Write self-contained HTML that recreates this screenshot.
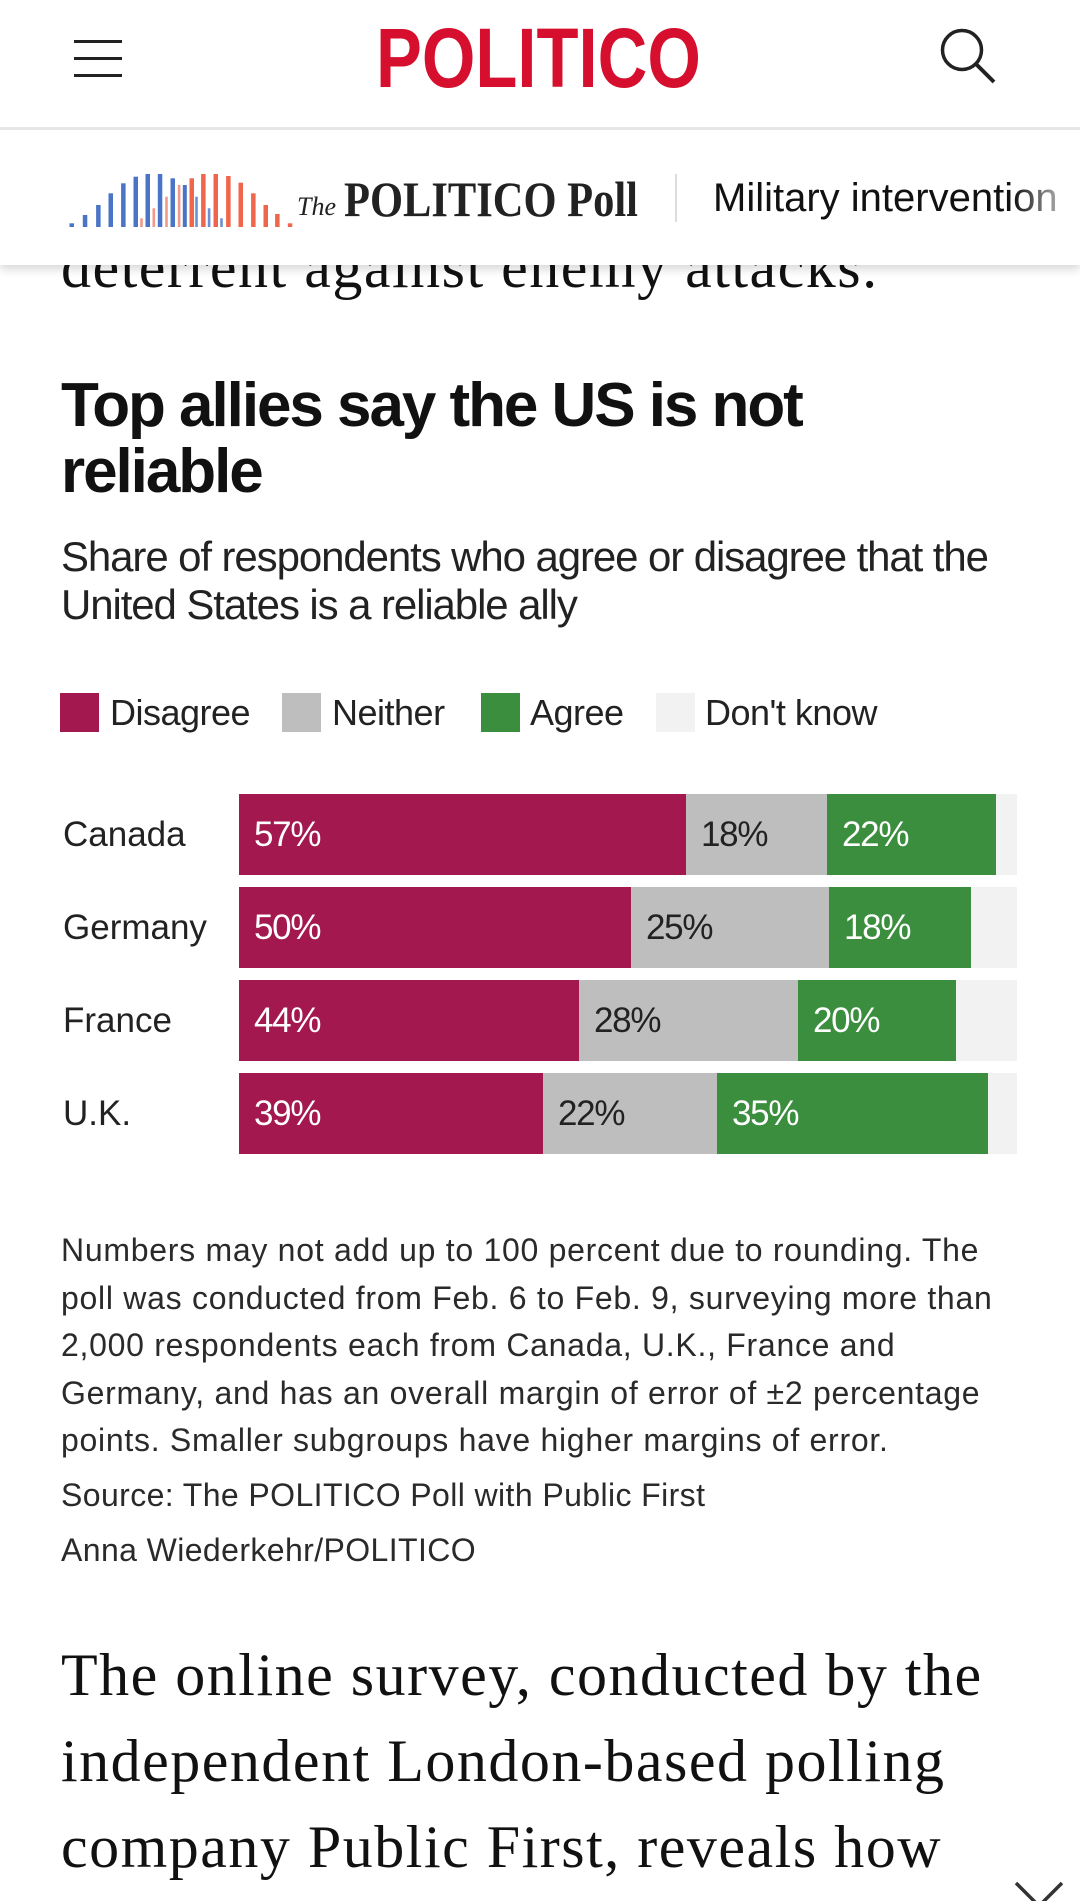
<!DOCTYPE html>
<html>
<head>
<meta charset="utf-8">
<style>
  html, body { margin:0; padding:0; background:#fff; }
  body { width:1080px; height:1901px; position:relative; overflow:hidden; font-family:"Liberation Sans", Arial, sans-serif; color:#222; }
  .abs { position:absolute; white-space:nowrap; }
  .serif { font-family:"Liberation Serif", "Times New Roman", serif; color:#111; }
  .bar { position:absolute; height:81px; line-height:81px; font-size:35px; letter-spacing:-1.3px; box-sizing:border-box; padding-left:15px; white-space:nowrap; overflow:hidden; }
  .dis { background:#a2184f; color:#fff; }
  .nei { background:#bebebe; color:#222; }
  .agr { background:#3a8e3d; color:#fff; }
  .dk  { background:#f2f2f2; }
  .country { position:absolute; left:63px; height:81px; line-height:81px; font-size:35px; color:#222; }
  .leg-sq { position:absolute; top:693px; width:39px; height:39px; }
  .leg-tx { position:absolute; top:693px; height:39px; line-height:39px; font-size:36px; letter-spacing:-0.5px; color:#222; white-space:nowrap; }
  .foot { position:absolute; left:61px; font-size:32px; line-height:47.5px; letter-spacing:0.72px; color:#2a2a2a; white-space:nowrap; }
</style>
</head>
<body>

<!-- partially hidden paragraph line behind sticky bar -->
<div class="abs serif" style="left:61px; top:224px; font-size:60px; line-height:86px; letter-spacing:1.5px; z-index:1;">deterrent against enemy attacks.</div>

<!-- top header -->
<div style="position:absolute; left:0; top:0; width:1080px; height:127px; background:#fff; z-index:3;">
  <div style="position:absolute; left:74px; top:40px; width:48px; height:3px; background:#222;"></div>
  <div style="position:absolute; left:74px; top:57px; width:48px; height:3px; background:#222;"></div>
  <div style="position:absolute; left:74px; top:74px; width:48px; height:3px; background:#222;"></div>
  <div class="abs" style="left:376px; top:15.6px; font-size:84px; line-height:84px; font-weight:bold; color:#d50f2d; transform:scaleX(0.819); transform-origin:left top; letter-spacing:0;">POLITICO</div>
  <svg style="position:absolute; left:930px; top:20px;" width="80" height="80" viewBox="930 20 80 80">
    <circle cx="962" cy="50" r="19.5" fill="none" stroke="#222" stroke-width="3.5"/>
    <line x1="976" y1="64" x2="994" y2="82" stroke="#222" stroke-width="4"/>
  </svg>
</div>
<div style="position:absolute; left:0; top:127px; width:1080px; height:3px; background:#e6e6e6; z-index:3;"></div>

<!-- sticky poll bar -->
<div style="position:absolute; left:0; top:130px; width:1080px; height:135px; background:#fff; box-shadow:0 4px 9px rgba(0,0,0,0.16); z-index:2;">
  <svg style="position:absolute; left:0; top:0;" width="320" height="135" viewBox="0 130 320 135">
    <g fill="#4a74c6">
      <rect x="69.5" y="223.3" width="4.5" height="3.7"/>
      <rect x="82.8" y="215" width="4.5" height="12"/>
      <rect x="96.1" y="205" width="4.5" height="22"/>
      <rect x="108.5" y="193.3" width="4.5" height="33.7"/>
      <rect x="121.1" y="183.3" width="4.5" height="43.7"/>
      <rect x="133.5" y="176.7" width="4.5" height="50.3"/>
      <rect x="145.5" y="174" width="4.5" height="53"/>
      <rect x="157.8" y="174" width="4.5" height="53"/>
      <rect x="170.5" y="178.3" width="4.5" height="48.7"/>
      <rect x="182.8" y="185" width="4" height="42"/>
    </g>
    <g fill="#f0664c">
      <rect x="189.5" y="178.3" width="4.5" height="48.7"/>
      <rect x="201.1" y="174" width="4.5" height="53"/>
      <rect x="213.5" y="174" width="4.5" height="53"/>
      <rect x="226.1" y="176" width="4.5" height="51"/>
      <rect x="238.5" y="182.7" width="4.5" height="44.3"/>
      <rect x="251.1" y="193.3" width="4.5" height="33.7"/>
      <rect x="263.5" y="205" width="4.5" height="22"/>
      <rect x="275.1" y="214" width="4.5" height="13"/>
      <rect x="287.8" y="223.3" width="4.5" height="3.7"/>
    </g>
    <g fill="#f29a88">
      <rect x="140.2" y="218.3" width="2.6" height="8.7"/>
      <rect x="152.5" y="208.3" width="2.6" height="18.7"/>
      <rect x="165.2" y="196.7" width="2.6" height="30.3"/>
      <rect x="177.8" y="185" width="2.6" height="42"/>
    </g>
    <g fill="#6d90d2">
      <rect x="195.2" y="196.7" width="2.6" height="30.3"/>
      <rect x="207.8" y="208.3" width="2.6" height="18.7"/>
      <rect x="220.2" y="218.3" width="2.6" height="8.7"/>
    </g>
  </svg>
  <div class="abs" style="left:297px; top:62px; font-family:'Liberation Serif', serif; font-style:italic; font-size:26px; line-height:30px; color:#222;">The</div>
  <div class="abs" style="left:344px; top:44px; font-family:'Liberation Serif', serif; font-weight:bold; font-size:50px; line-height:50px; color:#222; transform:scaleX(0.85); transform-origin:left top;">POLITICO Poll</div>
  <div style="position:absolute; left:675px; top:44px; width:2px; height:48px; background:#dcdcdc;"></div>
  <div class="abs" style="left:713px; top:43px; font-size:40px; line-height:50px; color:#111; width:349px; overflow:hidden; -webkit-mask-image:linear-gradient(to right, #000 86%, rgba(0,0,0,0.3) 100%); mask-image:linear-gradient(to right, #000 86%, rgba(0,0,0,0.3) 100%);">Military intervention</div>
</div>

<!-- Title -->
<div class="abs" style="left:61px; top:372.5px; font-size:62px; line-height:66px; font-weight:bold; letter-spacing:-2.05px; color:#111;">Top allies say the US is not<br>reliable</div>

<!-- Subtitle -->
<div class="abs" style="left:61px; top:533.4px; font-size:42px; line-height:48px; letter-spacing:-1.1px; color:#222;">Share of respondents who agree or disagree that the<br>United States is a reliable ally</div>

<!-- Legend -->
<div class="leg-sq" style="left:60px; background:#a2184f;"></div>
<div class="leg-tx" style="left:110px;">Disagree</div>
<div class="leg-sq" style="left:282px; background:#bebebe;"></div>
<div class="leg-tx" style="left:332px;">Neither</div>
<div class="leg-sq" style="left:481px; background:#3a8e3d;"></div>
<div class="leg-tx" style="left:530px;">Agree</div>
<div class="leg-sq" style="left:656px; background:#f2f2f2;"></div>
<div class="leg-tx" style="left:705px;">Don't know</div>

<!-- Bars -->
<div class="country" style="top:794px;">Canada</div>
<div class="bar dis" style="top:794px; left:239px; width:447px;">57%</div>
<div class="bar nei" style="top:794px; left:686px; width:141px;">18%</div>
<div class="bar agr" style="top:794px; left:827px; width:169px;">22%</div>
<div class="bar dk"  style="top:794px; left:996px; width:21px;"></div>

<div class="country" style="top:887px;">Germany</div>
<div class="bar dis" style="top:887px; left:239px; width:392px;">50%</div>
<div class="bar nei" style="top:887px; left:631px; width:198px;">25%</div>
<div class="bar agr" style="top:887px; left:829px; width:142px;">18%</div>
<div class="bar dk"  style="top:887px; left:971px; width:46px;"></div>

<div class="country" style="top:980px;">France</div>
<div class="bar dis" style="top:980px; left:239px; width:340px;">44%</div>
<div class="bar nei" style="top:980px; left:579px; width:219px;">28%</div>
<div class="bar agr" style="top:980px; left:798px; width:158px;">20%</div>
<div class="bar dk"  style="top:980px; left:956px; width:61px;"></div>

<div class="country" style="top:1073px;">U.K.</div>
<div class="bar dis" style="top:1073px; left:239px; width:304px;">39%</div>
<div class="bar nei" style="top:1073px; left:543px; width:174px;">22%</div>
<div class="bar agr" style="top:1073px; left:717px; width:271px;">35%</div>
<div class="bar dk"  style="top:1073px; left:988px; width:29px;"></div>

<!-- Footnote -->
<div class="foot" style="top:1227px;">Numbers may not add up to 100 percent due to rounding. The<br>poll was conducted from Feb. 6 to Feb. 9, surveying more than<br>2,000 respondents each from Canada, U.K., France and<br>Germany, and has an overall margin of error of ±2 percentage<br>points. Smaller subgroups have higher margins of error.</div>
<div class="foot" style="top:1472px; letter-spacing:0.4px;">Source: The POLITICO Poll with Public First</div>
<div class="foot" style="top:1527px; letter-spacing:0.4px;">Anna Wiederkehr/POLITICO</div>

<!-- Body text -->
<div class="abs serif" style="left:61px; top:1631.7px; font-size:60px; line-height:86px; letter-spacing:1.5px;">The online survey, conducted by the<br>independent London-based polling<br>company Public First, reveals how</div>

<!-- chevron -->
<svg style="position:absolute; left:1000px; top:1870px;" width="80" height="31" viewBox="1000 1870 80 31">
  <polyline points="1016,1883 1039,1906 1062,1883" fill="none" stroke="#333" stroke-width="3.5"/>
</svg>

</body>
</html>
